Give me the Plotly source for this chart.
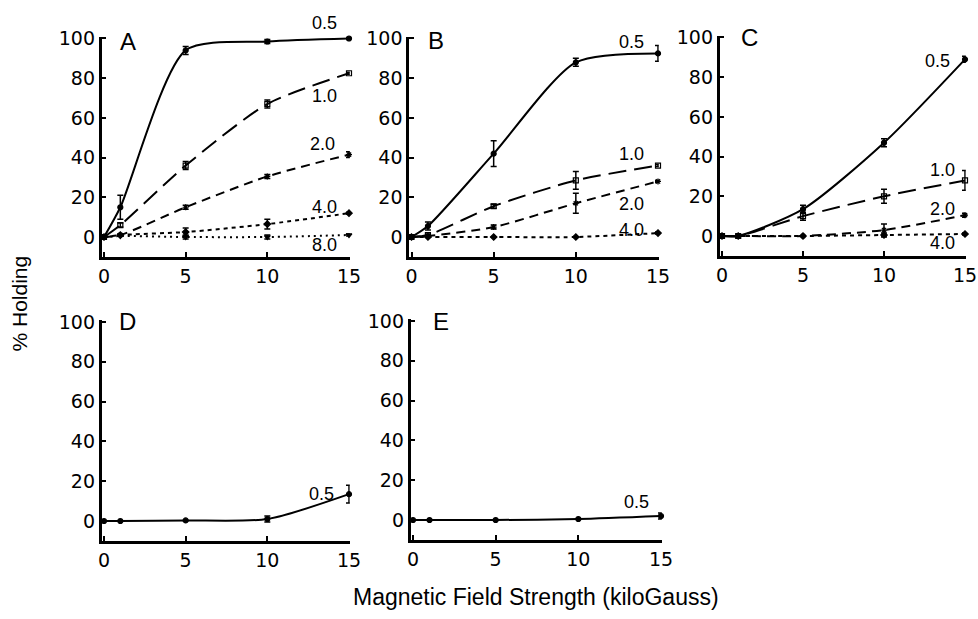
import plotly.graph_objects as go

W, H = 978, 619

# ---------------- data ----------------
field_kg = [0, 1, 5, 10, 15]

# Panel A
a_05 = [0, 15, 94, 98.5, 100]
a_05_err = [0, 6, 2, 1, 0.5]
a_10 = [0, 6, 36, 67, 82.5]
a_10_err = [0, 1, 2, 2, 0.5]
a_20 = [0, 1, 15, 30.5, 41.5]
a_20_err = [0, 0.5, 1, 1, 1.5]
a_40 = [0, 1, 2.5, 6.5, 12]
a_40_err = [0, 0.5, 2, 2.5, 0.5]
a_80 = [0, 0.5, 0, 0, 1]
a_80_err = [0, 0, 1, 1, 0.5]

# Panel B
b_05 = [0, 5.5, 42, 88, 92.5]
b_05_err = [0, 2, 6.5, 2, 4]
b_10 = [0, 1, 15.5, 28.5, 36]
b_10_err = [0, 0.5, 1, 4.5, 0.5]
b_20 = [0, 0.5, 5, 17, 28]
b_20_err = [0, 0, 1, 5, 0.5]
b_40 = [0, 0, 0, 0, 2]
b_40_err = [0, 0, 0, 0, 0.5]

# Panel C
c_05 = [0, 0, 13.5, 47, 89]
c_05_err = [0, 0, 2, 2, 1.5]
c_10 = [0, 0, 10, 20, 28]
c_10_err = [0, 0, 2, 3.5, 5]
c_20 = [0, 0, 0, 3, 10.5]
c_20_err = [0, 0, 0, 3, 1]
c_40 = [0, 0, 0, 0.5, 1]
c_40_err = [0, 0, 0, 1, 0.5]

# Panel D
d_05 = [0, 0, 0.3, 1, 13.5]
d_05_err = [0, 0, 0, 1.5, 4.5]

# Panel E
e_05 = [0, 0, 0, 0.5, 2]
e_05_err = [0, 0, 0, 0, 1.5]

conc_labels = ["0.5", "1.0", "2.0", "4.0", "8.0"]
panel_letters = ["A", "B", "C", "D", "E"]
y_ticks = [0, 20, 40, 60, 80, 100]
x_ticks = [0, 5, 10, 15]

panels = [
    [(a_05, a_05_err), (a_10, a_10_err), (a_20, a_20_err), (a_40, a_40_err), (a_80, a_80_err)],
    [(b_05, b_05_err), (b_10, b_10_err), (b_20, b_20_err), (b_40, b_40_err)],
    [(c_05, c_05_err), (c_10, c_10_err), (c_20, c_20_err), (c_40, c_40_err)],
    [(d_05, d_05_err)],
    [(e_05, e_05_err)],
]

# label placement (in each panel's data coords) per series
label_pos = [
    [(13.5, 108), (13.5, 71), (13.4, 47), (13.5, 15), (13.5, -4)],
    [(13.4, 98), (13.4, 42), (13.4, 16.5), (13.4, 3.5)],
    [(13.3, 88), (13.6, 33), (13.6, 13.5), (13.6, -3.5)],
    [(13.3, 13.5)],
    [(13.5, 9)],
]

# ---------------- layout geometry (pixels) ----------------
# (pixel of x=0, pixel of x=15, pixel of y=0, pixel of y=100)
geom = [
    (104, 349, 237, 38.5),
    (411.5, 658, 237, 38.5),
    (722, 965, 236, 37.5),
    (104, 349, 521, 322),
    (413, 661, 520, 321),
]
letter_px = [(128, 41.5), (436, 41), (749, 37), (127, 321.5), (441, 321.5)]
XMIN, XMAX = -0.15, 15.05
YMIN, YMAX = -10, 101

styles = [
    dict(dash="solid", symbol="circle"),
    dict(dash="18px,8px", symbol="square-open"),
    dict(dash="9px,6px", symbol="asterisk-open"),
    dict(dash="4px,4px", symbol="diamond"),
    dict(dash="2px,4px", symbol="triangle-down"),
]

fig = go.Figure()
layout = dict(
    width=W, height=H, template="none",
    margin=dict(l=0, r=0, t=0, b=0),
    paper_bgcolor="white", plot_bgcolor="white",
    showlegend=False,
)
annotations = []

for i, (series, (x0p, x15p, y0p, y100p)) in enumerate(zip(panels, geom)):
    n = i + 1
    sx = (x15p - x0p) / 15.0
    sy = (y0p - y100p) / 100.0
    left = x0p + XMIN * sx
    right = x0p + XMAX * sx
    bottom = y0p - YMIN * sy
    top = y0p - YMAX * sy
    xa = "x" if n == 1 else f"x{n}"
    ya = "y" if n == 1 else f"y{n}"
    layout[f"xaxis{'' if n == 1 else n}"] = dict(
        domain=[left / W, right / W], range=[XMIN, XMAX], anchor=ya,
        tickvals=x_ticks, ticks="inside", ticklen=5, tickwidth=2, tickcolor="black",
        showline=True, linewidth=2.5, linecolor="black", showgrid=False, zeroline=False,
        tickfont=dict(family="DejaVu Sans", size=19, color="black"),
        ticklabelstandoff=1, ticklabeloverflow="allow", automargin=False, fixedrange=True,
    )
    layout[f"yaxis{'' if n == 1 else n}"] = dict(
        domain=[1 - bottom / H, 1 - top / H], range=[YMIN, YMAX], anchor=xa,
        tickvals=y_ticks, ticks="inside", ticklen=5, tickwidth=2, tickcolor="black",
        showline=True, linewidth=2.5, linecolor="black", showgrid=False, zeroline=False,
        tickfont=dict(family="DejaVu Sans", size=19, color="black"),
        ticklabelstandoff=0, ticklabeloverflow="allow", automargin=False, fixedrange=True,
    )
    for k, (vals, err) in enumerate(series):
        st = styles[k]
        fig.add_trace(go.Scatter(
            x=field_kg, y=vals, mode="lines+markers", xaxis=xa, yaxis=ya,
            line=dict(color="black", width=2, dash=st["dash"], shape="spline", smoothing=0.7),
            marker=dict(symbol=st["symbol"], size=5, color="black",
                        line=dict(color="black", width=1.2)),
            error_y=dict(type="data", array=err, visible=True, color="black",
                         thickness=1.5, width=3),
            cliponaxis=False, hoverinfo="skip",
        ))
        lx, ly = label_pos[i][k]
        annotations.append(dict(
            x=(x0p + lx * sx) / W, y=1 - (y0p - ly * sy) / H,
            xref="paper", yref="paper", text=conc_labels[k], showarrow=False,
            xanchor="center", yanchor="middle",
            font=dict(family="Liberation Sans", size=18, color="black"),
        ))
    px, py = letter_px[i]
    annotations.append(dict(
        x=px / W, y=1 - py / H, xref="paper", yref="paper", text=panel_letters[i],
        showarrow=False, xanchor="center", yanchor="middle",
        font=dict(family="Liberation Sans", size=24, color="black"),
    ))

annotations.append(dict(
    x=18.5 / W, y=1 - 304 / H, xref="paper", yref="paper", text="% Holding",
    textangle=-90, showarrow=False, xanchor="center", yanchor="middle",
    font=dict(family="Liberation Sans", size=21, color="black"),
))
annotations.append(dict(
    x=536 / W, y=1 - 597 / H, xref="paper", yref="paper",
    text="Magnetic Field Strength (kiloGauss)",
    showarrow=False, xanchor="center", yanchor="middle",
    font=dict(family="Liberation Sans", size=23, color="black"),
))
layout["annotations"] = annotations
fig.update_layout(**layout)

fig.write_html(
    "out.html",
    config={"displayModeBar": False},
    post_script="document.body.style.margin='0';document.body.style.overflow='hidden';",
)
